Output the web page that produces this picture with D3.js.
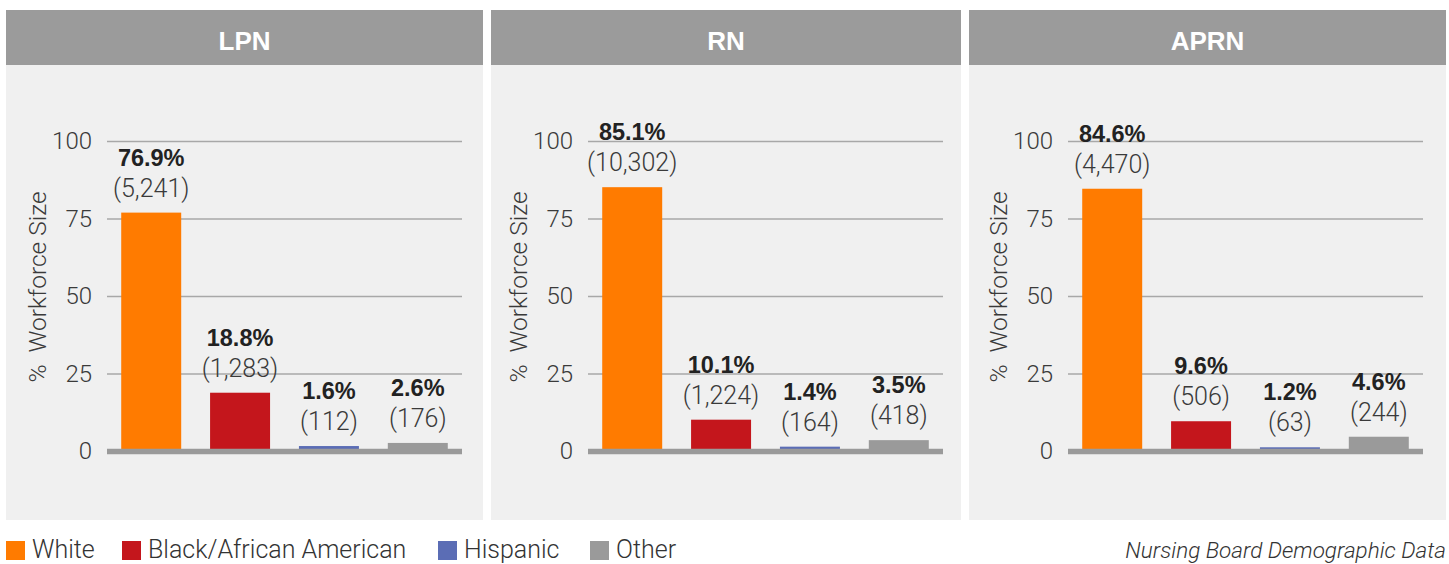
<!DOCTYPE html>
<html>
<head>
<meta charset="utf-8">
<script src="https://cdn.jsdelivr.net/npm/d3@7"></script>
<style>
  html, body { margin: 0; padding: 0; background: #ffffff; }
  svg { display: block; }
</style>
</head>
<body>
<svg id="chart" width="1449" height="564"></svg>
<script>
// Workforce composition by race/ethnicity for each nursing licence type
const categories = ["White", "Black/African American", "Hispanic", "Other"];
const panelTitles = ["LPN", "RN", "APRN"];

const lpnPct = [76.9, 18.8, 1.6, 2.6];
const lpnCount = [5241, 1283, 112, 176];
const rnPct = [85.1, 10.1, 1.4, 3.5];
const rnCount = [10302, 1224, 164, 418];
const aprnPct = [84.6, 9.6, 1.2, 4.6];
const aprnCount = [4470, 506, 63, 244];

const yTicks = [0, 25, 50, 75, 100];
const yTitle = "%  Workforce Size";
const sourceNote = "Nursing Board Demographic Data";

const colors = ["#ff7b00", "#c4161c", "#5b6db5", "#9a9a9a"];

const panelsData = [
  { title: panelTitles[0], pct: lpnPct, count: lpnCount },
  { title: panelTitles[1], pct: rnPct, count: rnCount },
  { title: panelTitles[2], pct: aprnPct, count: aprnCount }
];

// panel geometry
const panelLeft = [6, 491, 969];
const panelWidth = [477, 470, 477];
const plotLeft = [107, 588, 1068];
const plotWidth = 355;
const headerTop = 10, headerBottom = 65, panelBottom = 520;
const plotTop = 141, plotBottom = 451;

const lightFont = "Roboto, 'Helvetica Neue', 'Liberation Sans', Arial, sans-serif";
const boldFont = "'Liberation Sans', Arial, Helvetica, sans-serif";

const svg = d3.select("#chart");

const x = d3.scaleBand()
  .domain(categories)
  .range([0, plotWidth])
  .paddingInner(0.325)
  .paddingOuter(0.16);

const y = d3.scaleLinear().domain([0, 100]).range([plotBottom, plotTop]);
const fmtCount = d3.format(",");

panelsData.forEach((p, i) => {
  const g = svg.append("g");

  // panel background and header strip
  g.append("rect")
    .attr("x", panelLeft[i]).attr("y", headerBottom)
    .attr("width", panelWidth[i]).attr("height", panelBottom - headerBottom)
    .attr("fill", "#f0f0f0");
  g.append("rect")
    .attr("x", panelLeft[i]).attr("y", headerTop)
    .attr("width", panelWidth[i]).attr("height", headerBottom - headerTop)
    .attr("fill", "#9b9b9b");
  g.append("text")
    .attr("x", panelLeft[i] + panelWidth[i] / 2)
    .attr("y", 50)
    .attr("text-anchor", "middle")
    .attr("fill", "#ffffff")
    .style("font-family", boldFont)
    .style("font-weight", "bold")
    .style("font-size", "26px")
    .text(p.title);

  const plot = g.append("g").attr("transform", `translate(${plotLeft[i]},0)`);

  // gridlines and tick labels
  const axis = d3.axisLeft(y)
    .tickValues(yTicks)
    .tickSize(-plotWidth)
    .tickPadding(15)
    .tickFormat(d3.format("d"));
  const ax = plot.append("g").call(axis);
  ax.select(".domain").remove();
  ax.selectAll(".tick line")
    .attr("stroke", "#a8a8a8")
    .attr("stroke-width", 1.5);
  ax.selectAll(".tick text")
    .attr("fill", "#3a3a3a")
    .style("font-family", lightFont)
    .style("font-weight", 300)
    .style("font-size", "24px");

  // y-axis title
  g.append("text")
    .attr("transform", `translate(${plotLeft[i] - 70},${(plotTop + plotBottom) / 2 - 9}) rotate(-90)`)
    .attr("text-anchor", "middle")
    .attr("dy", "0.35em")
    .attr("fill", "#3a3a3a")
    .style("font-family", lightFont)
    .style("font-weight", 300)
    .style("font-size", "24.5px")
    .style("white-space", "pre")
    .text(yTitle);

  // bars
  plot.selectAll("rect.bar")
    .data(categories)
    .join("rect")
    .attr("class", "bar")
    .attr("x", d => x(d))
    .attr("width", x.bandwidth())
    .attr("y", (d, k) => y(p.pct[k]))
    .attr("height", (d, k) => y(0) - y(p.pct[k]))
    .attr("fill", (d, k) => colors[k]);

  // thick baseline
  plot.append("line")
    .attr("x1", 0).attr("x2", plotWidth)
    .attr("y1", y(0) + 0.5).attr("y2", y(0) + 0.5)
    .attr("stroke", "#9a9a9a")
    .attr("stroke-width", 5.5);

  // value labels: percentage (bold) over head count
  plot.selectAll("text.pct")
    .data(categories)
    .join("text")
    .attr("class", "pct")
    .attr("x", d => x(d) + x.bandwidth() / 2)
    .attr("y", (d, k) => y(p.pct[k]) - 47)
    .attr("text-anchor", "middle")
    .attr("fill", "#222222")
    .style("font-family", boldFont)
    .style("font-weight", "bold")
    .style("font-size", "23.5px")
    .text((d, k) => p.pct[k].toFixed(1) + "%");

  plot.selectAll("text.cnt")
    .data(categories)
    .join("text")
    .attr("class", "cnt")
    .attr("x", d => x(d) + x.bandwidth() / 2)
    .attr("y", (d, k) => y(p.pct[k]) - 16)
    .attr("text-anchor", "middle")
    .attr("fill", "#3a3a3a")
    .style("font-family", lightFont)
    .style("font-weight", 300)
    .style("font-size", "25px")
    .text((d, k) => "(" + fmtCount(p.count[k]) + ")");
});

// legend
const legendX = [6, 122, 438, 590];
const legend = svg.append("g");
categories.forEach((c, k) => {
  legend.append("rect")
    .attr("x", legendX[k]).attr("y", 541)
    .attr("width", 19).attr("height", 19)
    .attr("fill", colors[k]);
  legend.append("text")
    .attr("x", legendX[k] + 26).attr("y", 558)
    .attr("fill", "#333333")
    .style("font-family", lightFont)
    .style("font-weight", 300)
    .style("font-size", "25px")
    .text(c);
});

// source note
svg.append("text")
  .attr("x", 1446).attr("y", 558)
  .attr("text-anchor", "end")
  .attr("fill", "#333333")
  .style("font-family", lightFont)
  .style("font-weight", 300)
  .style("font-style", "italic")
  .style("font-size", "22.5px")
  .text(sourceNote);
</script>
</body>
</html>
